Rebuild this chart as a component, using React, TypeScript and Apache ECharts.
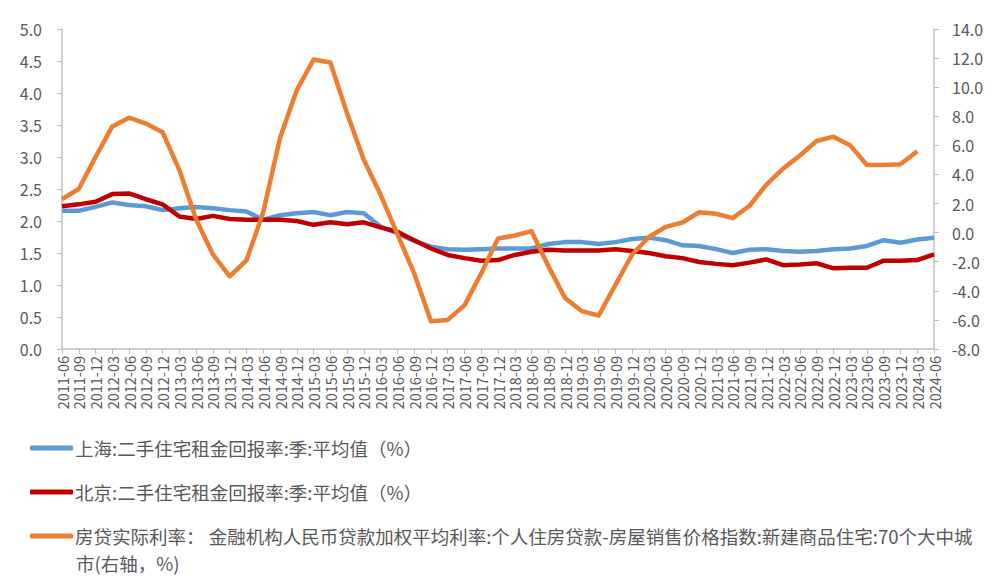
import React, { useEffect, useRef } from "react";
import * as echarts from "echarts";

const categories: string[] = [
  "2011-06", "2011-09", "2011-12",
  "2012-03", "2012-06", "2012-09", "2012-12",
  "2013-03", "2013-06", "2013-09", "2013-12",
  "2014-03", "2014-06", "2014-09", "2014-12",
  "2015-03", "2015-06", "2015-09", "2015-12",
  "2016-03", "2016-06", "2016-09", "2016-12",
  "2017-03", "2017-06", "2017-09", "2017-12",
  "2018-03", "2018-06", "2018-09", "2018-12",
  "2019-03", "2019-06", "2019-09", "2019-12",
  "2020-03", "2020-06", "2020-09", "2020-12",
  "2021-03", "2021-06", "2021-09", "2021-12",
  "2022-03", "2022-06", "2022-09", "2022-12",
  "2023-03", "2023-06", "2023-09", "2023-12",
  "2024-03", "2024-06",
];

const shanghai: number[] = [
  2.16, 2.16, 2.22, 2.29, 2.25, 2.23, 2.17, 2.2, 2.22, 2.2, 2.17,
  2.15, 2.02, 2.09, 2.12, 2.14, 2.09, 2.14, 2.12, 1.91, 1.81, 1.69,
  1.6, 1.56, 1.55, 1.56, 1.57, 1.57, 1.57, 1.64, 1.67, 1.67, 1.64,
  1.67, 1.72, 1.74, 1.7, 1.62, 1.61, 1.56, 1.5, 1.55, 1.56, 1.53,
  1.52, 1.53, 1.56, 1.57, 1.61, 1.7, 1.66, 1.71, 1.74,
];

const beijing: number[] = [
  2.23, 2.26, 2.3, 2.42, 2.43, 2.34, 2.26, 2.07, 2.03, 2.08, 2.03,
  2.02, 2.02, 2.02, 2.0, 1.94, 1.98, 1.95, 1.98, 1.9, 1.83, 1.7,
  1.57, 1.47, 1.42, 1.38, 1.39, 1.47, 1.52, 1.55, 1.54, 1.54, 1.54,
  1.56, 1.53, 1.5, 1.45, 1.42, 1.36, 1.33, 1.31, 1.35, 1.4, 1.31,
  1.32, 1.34, 1.26, 1.27, 1.27, 1.38, 1.38, 1.39, 1.48,
];

const realRate: number[] = [
  2.3, 3.0, 5.2, 7.3, 7.9, 7.5, 6.9, 4.3, 0.9, -1.5, -3.0,
  -1.9, 1.4, 6.5, 9.8, 11.9, 11.7, 8.2, 5.0, 2.6, -0.1, -2.8,
  -6.1, -6.0, -5.0, -2.8, -0.4, -0.2, 0.1, -2.3, -4.5, -5.4, -5.7,
  -3.6, -1.5, -0.3, 0.4, 0.7, 1.4, 1.3, 1.0, 1.85, 3.3, 4.4,
  5.3, 6.3, 6.6, 6.0, 4.65, 4.65, 4.7, 5.6,
];

const seriesNames: string[] = [
  "上海:二手住宅租金回报率:季:平均值（%）",
  "北京:二手住宅租金回报率:季:平均值（%）",
  "房贷实际利率：金融机构人民币贷款加权平均利率:个人住房贷款-房屋销售价格指数:新建商品住宅:70个大中城市(右轴，%)",
];
const thirdLegendLine1 = "房贷实际利率： 金融机构人民币贷款加权平均利率:个人住房贷款-房屋销售价格指数:新建商品住宅:70个大中城";
const thirdLegendLine2 = "市(右轴，%)";

const colors: string[] = ["#5B9BD5", "#C00000", "#ED7D31"];

const FONT = "'Noto Sans CJK SC', 'Noto Sans', sans-serif";
const TEXT_COLOR = "#595959";
const AXIS_COLOR = "#BFBFBF";
const LEGEND_FONT = 18.5;

export default function App() {
  const ref = useRef<HTMLDivElement>(null);

  useEffect(() => {
    if (!ref.current) return;
    const chart = echarts.init(ref.current, undefined, { renderer: "svg" });

    const legendBase = (name: string, top: number, formatter?: string) => ({
      show: true,
      left: 30,
      top,
      padding: 0,
      orient: "horizontal" as const,
      data: [name],
      icon: "roundRect",
      itemWidth: 43,
      itemHeight: 5,
      itemGap: 0,
      selectedMode: false,
      textStyle: {
        fontFamily: FONT,
        fontSize: LEGEND_FONT,
        lineHeight: 22,
        color: TEXT_COLOR,
        padding: [0, 0, 0, -3],
      },
      formatter: formatter ? () => formatter : undefined,
    });

    chart.setOption({
      animation: false,
      backgroundColor: "#ffffff",
      textStyle: { fontFamily: FONT },
      grid: { left: 62, right: 58, top: 29, bottom: 237, containLabel: false },
      legend: [
        legendBase(seriesNames[0], 437),
        legendBase(seriesNames[1], 481),
        legendBase(seriesNames[2], 525, thirdLegendLine1),
      ],
      graphic: [
        {
          type: "text",
          left: 76,
          top: 552,
          style: {
            text: thirdLegendLine2,
            fontFamily: FONT,
            fontSize: LEGEND_FONT,
            lineHeight: 22,
            fill: TEXT_COLOR,
          },
        },
      ],
      xAxis: {
        type: "category",
        data: categories,
        boundaryGap: false,
        axisLine: { show: true, lineStyle: { color: AXIS_COLOR, width: 1.5 } },
        axisTick: { show: true, length: 5, alignWithLabel: true, lineStyle: { color: AXIS_COLOR } },
        axisLabel: {
          interval: 0,
          rotate: 90,
          fontSize: 14.5,
          color: TEXT_COLOR,
          fontFamily: FONT,
          margin: 7,
        },
        splitLine: { show: false },
      },
      yAxis: [
        {
          type: "value",
          min: 0,
          max: 5,
          interval: 0.5,
          position: "left",
          axisLine: { show: true, lineStyle: { color: AXIS_COLOR, width: 1.5 } },
          axisTick: { show: true, length: 5, lineStyle: { color: AXIS_COLOR } },
          axisLabel: {
            color: TEXT_COLOR,
            fontSize: 16,
            fontFamily: FONT,
            margin: 20,
            formatter: (v: number) => v.toFixed(1),
          },
          splitLine: { show: false },
        },
        {
          type: "value",
          min: -8,
          max: 14,
          interval: 2,
          position: "right",
          axisLine: { show: true, lineStyle: { color: AXIS_COLOR, width: 1.5 } },
          axisTick: { show: true, length: 5, lineStyle: { color: AXIS_COLOR } },
          axisLabel: {
            color: TEXT_COLOR,
            fontSize: 16,
            fontFamily: FONT,
            margin: 18,
            formatter: (v: number) => v.toFixed(1),
          },
          splitLine: { show: false },
        },
      ],
      series: [
        {
          name: seriesNames[0],
          type: "line",
          data: shanghai,
          yAxisIndex: 0,
          showSymbol: false,
          symbol: "none",
          lineStyle: { color: colors[0], width: 4.5, join: "round" },
          itemStyle: { color: colors[0] },
          z: 2,
        },
        {
          name: seriesNames[1],
          type: "line",
          data: beijing,
          yAxisIndex: 0,
          showSymbol: false,
          symbol: "none",
          lineStyle: { color: colors[1], width: 4.5, join: "round" },
          itemStyle: { color: colors[1] },
          z: 3,
        },
        {
          name: seriesNames[2],
          type: "line",
          data: realRate,
          yAxisIndex: 1,
          showSymbol: false,
          symbol: "none",
          lineStyle: { color: colors[2], width: 4.5, join: "round" },
          itemStyle: { color: colors[2] },
          z: 4,
        },
      ],
    });

    return () => {
      chart.dispose();
    };
  }, []);

  return (
    <div
      ref={ref}
      style={{ position: "absolute", left: 0, top: 0, width: 992, height: 586 }}
    />
  );
}
